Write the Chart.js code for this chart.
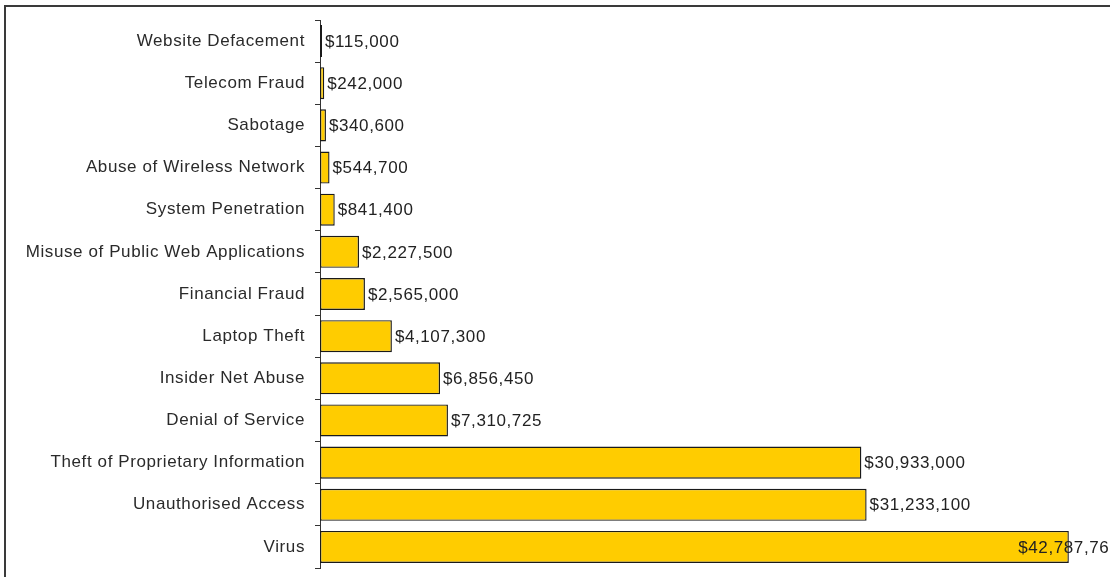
<!DOCTYPE html>
<html>
<head>
<meta charset="utf-8">
<script src="https://cdn.jsdelivr.net/npm/chart.js@4/dist/chart.umd.min.js"></script>
<style>
  html, body { margin: 0; padding: 0; background: #fff; overflow: hidden; }
  #frame {
    position: absolute; left: 4px; top: 5px;
    width: 2000px; height: 2000px;
    border: 2px solid #3a3a3a;
  }
  #chart { position: absolute; left: 0; top: 0; }
</style>
</head>
<body>
<div id="frame"></div>
<canvas id="chart" width="1110" height="577"></canvas>
<script>
// categorias y costes (USD), de arriba hacia abajo
const categories = [
    'Website Defacement',
    'Telecom Fraud',
    'Sabotage',
    'Abuse of Wireless Network',
    'System Penetration',
    'Misuse of Public Web Applications',
    'Financial Fraud',
    'Laptop Theft',
    'Insider Net Abuse',
    'Denial of Service',
    'Theft of Proprietary Information',
    'Unauthorised Access',
    'Virus'
];
const losses = [
    115000, 242000, 340600, 544700, 841400, 2227500, 2565000,
    4107300, 6856450, 7310725, 30933000, 31233100, 42787767
];

const money = v => '$' + v.toLocaleString('en-US');
const FONT = '"Liberation Sans", Arial, sans-serif';
const SPACING = '0.6px';

// espaciado de letras como en el original
const spacingPlugin = {
    id: 'spacing',
    beforeDraw(chart) {
        chart.ctx.letterSpacing = SPACING;
    }
};

// etiquetas de valor a la derecha de cada barra
const valueLabels = {
    id: 'valueLabels',
    afterDatasetsDraw(chart) {
        const ctx = chart.ctx;
        const meta = chart.getDatasetMeta(0);
        ctx.save();
        ctx.letterSpacing = SPACING;
        ctx.font = '17px ' + FONT;
        ctx.fillStyle = '#222';
        ctx.textAlign = 'left';
        ctx.textBaseline = 'middle';
        meta.data.forEach(function(bar, i) {
            const txt = money(losses[i]);
            const w = ctx.measureText(txt).width;
            let x = bar.x + 3;
            if (x + w > chart.width) x = bar.x - w / 2;
            ctx.fillText(txt, x, bar.y + 1);
        });
        ctx.restore();
    }
};

new Chart(document.getElementById('chart'), {
    type: 'bar',
    data: {
        labels: categories,
        datasets: [{
            data: losses,
            backgroundColor: '#FFCC00',
            borderColor: '#1a1a1a',
            borderWidth: 1.4,
            borderSkipped: false,
            categoryPercentage: 1,
            barPercentage: 0.76
        }]
    },
    options: {
        indexAxis: 'y',
        responsive: false,
        animation: false,
        layout: { padding: { top: 20, bottom: 9, left: 0, right: 0 } },
        plugins: {
            legend: { display: false },
            tooltip: { enabled: false }
        },
        scales: {
            x: {
                display: false,
                min: 0,
                max: 45140000
            },
            y: {
                afterFit(scale) {
                    scale.width = 320;
                    scale.paddingTop = 0;
                    scale.paddingBottom = 0;
                },
                border: { display: true, color: '#333', width: 1 },
                grid: {
                    drawOnChartArea: false,
                    drawTicks: true,
                    tickLength: 5,
                    color: '#333'
                },
                ticks: {
                    color: '#2a2a2a',
                    padding: 10,
                    font: { family: FONT, size: 17 }
                }
            }
        }
    },
    plugins: [spacingPlugin, valueLabels]
});
</script>
</body>
</html>
